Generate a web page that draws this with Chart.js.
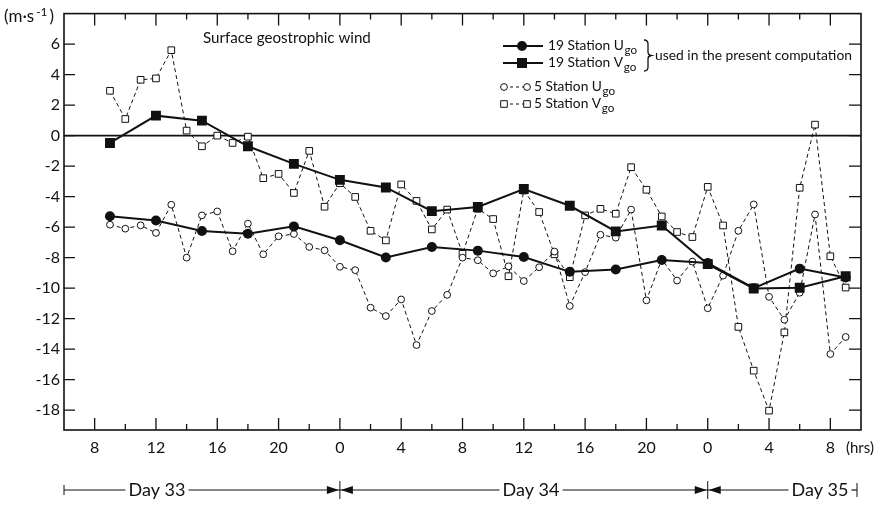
<!DOCTYPE html>
<html><head><meta charset="utf-8">
<script src="https://cdn.jsdelivr.net/npm/chart.js@4.4.0/dist/chart.umd.min.js"></script>
<style>html,body{margin:0;padding:0;background:#fff;}#wrap{width:881px;height:505px;position:relative;}</style>
</head><body><div id="wrap"><canvas id="c" width="881" height="505"></canvas></div>
<script>
// ---- data (hours counted from Day 33, 00 h) ----
const hours19 = [9,12,15,18,21,24,27,30,33,36,39,42,45,48,51,54,57];
const u19 = [-5.29,-5.56,-6.25,-6.43,-5.95,-6.86,-7.99,-7.30,-7.54,-7.96,-8.93,-8.78,-8.15,-8.35,-10.00,-8.72,-9.30];
const v19 = [-0.48,1.31,0.98,-0.70,-1.85,-2.90,-3.40,-4.95,-4.68,-3.50,-4.60,-6.28,-5.89,-8.42,-10.02,-9.97,-9.22];
const hours5 = [9,10,11,12,13,14,15,16,17,18,19,20,21,22,23,24,25,26,27,28,29,30,31,32,33,34,35,36,37,38,39,40,41,42,43,44,45,46,47,48,49,50,51,52,53,54,55,56,57];
const u5 = [-5.84,-6.10,-5.88,-6.38,-4.53,-8.00,-5.23,-4.97,-7.58,-5.77,-7.78,-6.60,-6.45,-7.30,-7.52,-8.60,-8.82,-11.28,-11.83,-10.74,-13.73,-11.50,-10.44,-8.00,-8.17,-9.03,-8.57,-9.53,-8.63,-7.60,-11.17,-8.95,-6.50,-6.69,-4.85,-10.80,-8.10,-9.50,-8.26,-11.32,-9.18,-6.24,-4.51,-10.57,-12.07,-10.30,-5.17,-14.32,-13.20];
const v5 = [2.94,1.09,3.66,3.75,5.60,0.33,-0.70,0.00,-0.48,-0.07,-2.79,-2.51,-3.76,-1.00,-4.66,-3.12,-4.02,-6.24,-6.87,-3.20,-4.28,-6.15,-4.85,-7.75,-4.80,-5.47,-9.22,-3.60,-5.01,-7.78,-9.28,-5.23,-4.80,-5.12,-2.07,-3.55,-5.30,-6.32,-6.65,-3.36,-5.89,-12.54,-15.41,-18.03,-12.90,-3.42,0.72,-7.91,-9.96];
const xTickHours = [8,12,16,20,24,28,32,36,40,44,48,52,56];
const xTickLabels = ['8','12','16','20','0','4','8','12','16','20','0','4','8'];
const xMinorHours = [10,14,18,22,26,30,34,38,42,46,50,54];
const yTickValues = [6,4,2,0,-2,-4,-6,-8,-10,-12,-14,-16,-18];
const yTickLabels = ['6','4','2','0','-2','-4','-6','-8','-10','-12','-14','-16','-18'];
const dayBoundaries = [24,48];
const dayLabels = ['Day 33','Day 34','Day 35'];
const seriesMain = ['19 Station U','19 Station V','5 Station U','5 Station V'];
const seriesSub = 'go';
const titleText = 'Surface geostrophic wind';
const noteText = 'used in the present computation';

const FONT = 'Lato, "Open Sans", sans-serif';
const INK = '#111';
const toXY = (xs, ys) => xs.map((h, i) => ({x: h, y: ys[i]}));

function fitFont(ctx, text, target, base) {
  ctx.font = base + 'px ' + FONT;
  const w = ctx.measureText(text).width;
  return base * target / w;
}
function subText(ctx, x, y, main, sub, size) {
  ctx.font = size + 'px ' + FONT;
  ctx.textAlign = 'left'; ctx.textBaseline = 'middle';
  ctx.fillText(main, x, y);
  const w = ctx.measureText(main).width;
  ctx.font = (size * 0.85) + 'px ' + FONT;
  ctx.fillText(sub, x + w + 0.5, y + size * 0.3);
}
function marker(ctx, kind, x, y) {
  ctx.save();
  ctx.lineWidth = 1; ctx.strokeStyle = INK;
  ctx.beginPath();
  if (kind === 'fc') { ctx.arc(x, y, 5, 0, Math.PI * 2); ctx.fillStyle = INK; ctx.fill(); }
  else if (kind === 'fs') { ctx.rect(x - 5, y - 5, 10, 10); ctx.fillStyle = INK; ctx.fill(); }
  else if (kind === 'oc') { ctx.arc(x, y, 3.4, 0, Math.PI * 2); ctx.fillStyle = '#fff'; ctx.fill(); ctx.stroke(); }
  else { ctx.rect(x - 3.3, y - 3.3, 6.6, 6.6); ctx.fillStyle = '#fff'; ctx.fill(); ctx.stroke(); }
  ctx.restore();
}
function arrow(ctx, tipX, y, dir) {
  ctx.beginPath();
  ctx.moveTo(tipX, y);
  ctx.lineTo(tipX - dir * 12, y - 4);
  ctx.lineTo(tipX - dir * 12, y + 4);
  ctx.closePath(); ctx.fill();
}

const frame = {
  id: 'frame',
  beforeDatasetsDraw(chart) {
    const {ctx, chartArea: a, scales: {x, y}} = chart;
    ctx.save();
    ctx.strokeStyle = INK;
    ctx.lineWidth = 1.6;
    ctx.strokeRect(a.left, a.top, a.right - a.left, a.bottom - a.top);
    const y0 = y.getPixelForValue(0);
    ctx.beginPath(); ctx.moveTo(a.left, y0); ctx.lineTo(a.right, y0); ctx.stroke();
    ctx.lineWidth = 1.3;
    yTickValues.forEach(v => {
      const py = y.getPixelForValue(v);
      ctx.beginPath();
      ctx.moveTo(a.left, py); ctx.lineTo(a.left + 11, py);
      ctx.moveTo(a.right, py); ctx.lineTo(a.right - 12, py);
      ctx.stroke();
    });
    const tick = (h, L) => {
      const px = x.getPixelForValue(h);
      ctx.beginPath();
      ctx.moveTo(px, a.bottom); ctx.lineTo(px, a.bottom - L);
      ctx.moveTo(px, a.top); ctx.lineTo(px, a.top + L);
      ctx.stroke();
    };
    xTickHours.forEach(h => tick(h, 12));
    xMinorHours.forEach(h => tick(h, 6));
    ctx.restore();
  },
  afterDraw(chart) {
    const {ctx, chartArea: a, scales: {x}} = chart;
    ctx.save();
    ctx.fillStyle = INK; ctx.strokeStyle = INK;
    // title
    let s = fitFont(ctx, titleText, 168, 16);
    ctx.font = s + 'px ' + FONT; ctx.textAlign = 'left'; ctx.textBaseline = 'middle';
    ctx.fillText(titleText, 203, 38);
    // units
    ctx.font = '17px ' + FONT;
    ctx.fillText('(m\u00b7s', 4, 17);
    let w = ctx.measureText('(m\u00b7s').width;
    ctx.font = '12px ' + FONT;
    ctx.fillText('-1', 4 + w + 2, 12);
    let w2 = ctx.measureText('-1').width;
    ctx.font = '17px ' + FONT;
    ctx.fillText(')', 4 + w + w2 + 4, 17);
    // hrs
    ctx.font = '15px ' + FONT;
    ctx.fillText('(hrs)', 846, 448);
    // legend
    const kinds = ['fc', 'fs', 'oc', 'os'];
    const rows = [46, 63, 87, 104];
    const ls = fitFont(ctx, seriesMain[0], 76, 14);
    rows.forEach((ry, i) => {
      ctx.save();
      ctx.lineWidth = i < 2 ? 2 : 1;
      if (i >= 2) ctx.setLineDash([3, 3]);
      ctx.beginPath();
      if (i < 2) { ctx.moveTo(503, ry); ctx.lineTo(543, ry); }
      else { ctx.moveTo(504, ry); ctx.lineTo(527, ry); }
      ctx.stroke();
      ctx.restore();
      if (i < 2) marker(ctx, kinds[i], 522, ry);
      else { marker(ctx, kinds[i], 504, ry); marker(ctx, kinds[i], 527, ry); }
      subText(ctx, i < 2 ? 548 : 534, ry, seriesMain[i], seriesSub, ls);
    });
    // brace
    ctx.save();
    ctx.lineWidth = 1.3;
    ctx.beginPath();
    ctx.moveTo(644, 40);
    ctx.quadraticCurveTo(648, 40, 648, 44);
    ctx.lineTo(648, 52);
    ctx.quadraticCurveTo(648, 55, 651, 55.5);
    ctx.quadraticCurveTo(648, 56, 648, 59);
    ctx.lineTo(648, 67);
    ctx.quadraticCurveTo(648, 71, 644, 71);
    ctx.stroke();
    ctx.restore();
    s = fitFont(ctx, noteText, 197, 14);
    ctx.font = s + 'px ' + FONT; ctx.textAlign = 'left';
    ctx.fillText(noteText, 655, 56);
    // day line
    const dy = 490;
    const b1 = x.getPixelForValue(dayBoundaries[0]);
    const b2 = x.getPixelForValue(dayBoundaries[1]);
    const L = a.left, R = a.right - 4;
    const ds = fitFont(ctx, dayLabels[0], 57, 14);
    ctx.font = ds + 'px ' + FONT; ctx.textAlign = 'center';
    const centers = [157, 531, 820];
    const spans = [];
    dayLabels.forEach((t, i) => {
      ctx.fillText(t, centers[i], dy);
      const tw = ctx.measureText(t).width;
      spans.push([centers[i] - tw / 2 - 3, centers[i] + tw / 2 + 3]);
    });
    ctx.lineWidth = 1.2;
    const seg = (x1, x2) => { ctx.beginPath(); ctx.moveTo(x1, dy); ctx.lineTo(x2, dy); ctx.stroke(); };
    seg(L, spans[0][0]); seg(spans[0][1], b1);
    seg(b1, spans[1][0]); seg(spans[1][1], b2);
    seg(b2, spans[2][0]); seg(spans[2][1], R);
    ctx.lineWidth = 1;
    [[L, 5], [b1, 9], [b2, 9], [R, 7]].forEach(([bx, hh]) => {
      ctx.beginPath(); ctx.moveTo(bx, dy - hh); ctx.lineTo(bx, dy + hh); ctx.stroke();
    });
    arrow(ctx, b1 - 1, dy, 1); arrow(ctx, b1 + 1, dy, -1);
    arrow(ctx, b2 - 1, dy, 1); arrow(ctx, b2 + 1, dy, -1);
    ctx.restore();
  }
};

new Chart(document.getElementById('c'), {
  type: 'line',
  data: {
    datasets: [
      {label: seriesMain[0] + seriesSub, data: toXY(hours19, u19), borderColor: INK, borderWidth: 2,
       pointStyle: 'circle', pointRadius: 5, pointBackgroundColor: INK, pointBorderColor: INK, pointBorderWidth: 0},
      {label: seriesMain[1] + seriesSub, data: toXY(hours19, v19), borderColor: INK, borderWidth: 2,
       pointStyle: 'rect', pointRadius: 7, pointBackgroundColor: INK, pointBorderColor: INK, pointBorderWidth: 0},
      {label: seriesMain[2] + seriesSub, data: toXY(hours5, u5), borderColor: INK, borderWidth: 1, borderDash: [4, 3],
       pointStyle: 'circle', pointRadius: 3.4, pointBackgroundColor: '#fff', pointBorderColor: INK, pointBorderWidth: 1},
      {label: seriesMain[3] + seriesSub, data: toXY(hours5, v5), borderColor: INK, borderWidth: 1, borderDash: [4, 3],
       pointStyle: 'rect', pointRadius: 4.7, pointBackgroundColor: '#fff', pointBorderColor: INK, pointBorderWidth: 1}
    ]
  },
  options: {
    responsive: false, animation: false, devicePixelRatio: 1,
    layout: {padding: {left: 0, top: 13, right: 20, bottom: 0}},
    plugins: {legend: {display: false}, tooltip: {enabled: false}, title: {display: false}},
    elements: {line: {tension: 0}},
    scales: {
      x: {
        type: 'linear', position: 'bottom', min: 6, max: 58,
        grid: {display: false, drawTicks: false, tickLength: 0}, border: {display: false},
        afterBuildTicks: sc => { sc.ticks = xTickHours.map(v => ({value: v})); },
        afterFit: sc => { sc.height = 75; },
        ticks: {autoSkip: false, maxRotation: 0, padding: 8, color: INK,
                font: {family: FONT, size: 16},
                callback: (v, i) => xTickLabels[i]}
      },
      y: {
        type: 'linear', position: 'left', min: -19.3, max: 8,
        grid: {display: false, drawTicks: false, tickLength: 0}, border: {display: false},
        afterBuildTicks: sc => { sc.ticks = yTickValues.map(v => ({value: v})); },
        afterFit: sc => { sc.width = 64; },
        ticks: {autoSkip: false, padding: 4, color: INK,
                font: {family: FONT, size: 16},
                callback: (v, i) => yTickLabels[i]}
      }
    }
  },
  plugins: [frame]
});
</script>
</body></html>
